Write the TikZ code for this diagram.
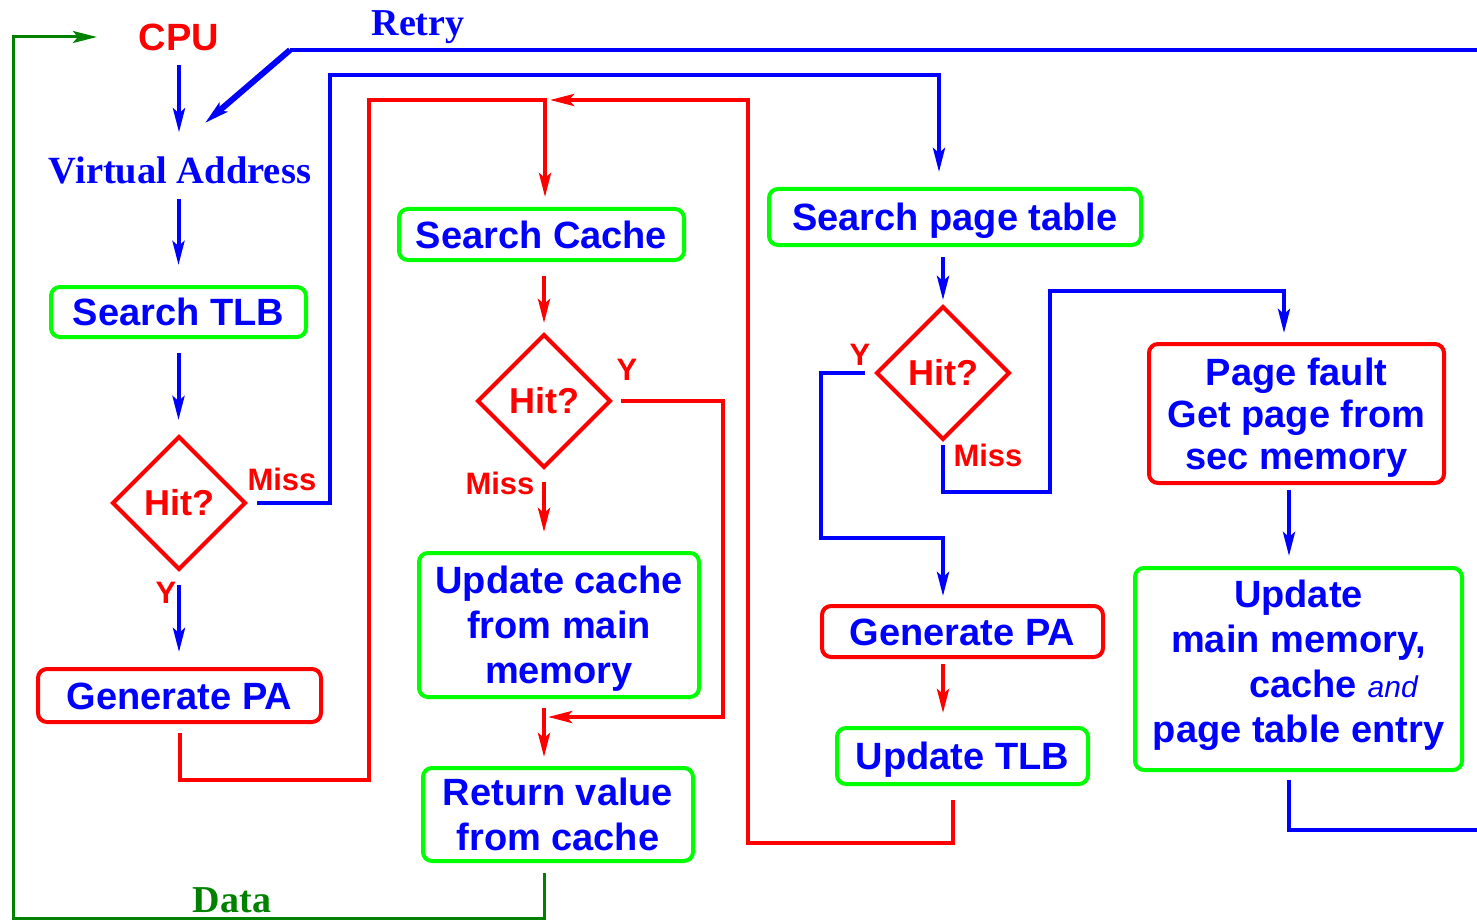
\documentclass[tikz,border=0pt]{standalone}
\usepackage{fontspec}
\setmainfont{Liberation Sans}
\newfontfamily\serifbf{Liberation Serif}
\usetikzlibrary{arrows.meta,shapes.geometric,calc}
\definecolor{pblue}{RGB}{0,0,255}
\definecolor{pred}{RGB}{255,0,0}
\definecolor{pgreen}{RGB}{0,255,0}
\definecolor{dgreen}{RGB}{0,130,0}

\begin{document}
\begin{tikzpicture}[x=1pt,y=-1pt,
  box/.style={rectangle, rounded corners=9pt, line width=4pt, inner sep=0pt, outer sep=0pt,
    align=center, text=pblue, font=\bfseries\fontsize{38}{45}\selectfont},
  oneline/.style={text height=27pt, text depth=0pt},
  gbox/.style={box, draw=pgreen},
  rbox/.style={box, draw=pred},
  dec/.style={diamond, draw=pred, line width=4pt, inner sep=0pt, outer sep=0pt,
    minimum width=132pt, minimum height=132pt, text=pred,
    font=\bfseries\fontsize{36}{40}\selectfont},
  lbl/.style={inner sep=0pt, text=pred, font=\bfseries\fontsize{31}{34}\selectfont},
  ttl/.style={inner sep=0pt, outer sep=0pt, font=\serifbf\bfseries\fontsize{38}{42}\selectfont},
  bflow/.style={draw=pblue, line width=4pt},
  rflow/.style={draw=pred, line width=4pt},
  gflow/.style={draw=dgreen, line width=3pt},
  tip/.style={-{Stealth[length=24pt,width=12pt,inset=5pt]}},
]
\useasboundingbox (0,0) rectangle (1477,920);

% titles
\node[inner sep=0pt, outer sep=0pt, text=pred, font=\bfseries\fontsize{38}{42}\selectfont] (cpu) at (179,37) {CPU};
\node[ttl, text=pblue] (retry) at (418,27) {Retry};
\node[ttl, text=pblue, font=\serifbf\bfseries\fontsize{38.5}{42}\selectfont] (va) at (180,170) {Virtual Address};
\node[ttl, text=dgreen] (data) at (232,900) {Data};

% TLB column
\node[gbox, oneline, minimum width=255pt, minimum height=50pt] (tlb) at (178.5,312) {Search TLB};
\node[dec] (hit1) at (179,503) {Hit?};
\node[rbox, oneline, minimum width=283pt, minimum height=53pt] (gpa1) at (179.5,695.5) {Generate PA};

% cache column
\node[gbox, oneline, minimum width=285pt, minimum height=51pt] (scache) at (541.5,234.5) {Search Cache};
\node[dec] (hit2) at (544,401) {Hit?};
\node[gbox, text depth=0pt, minimum width=280pt, minimum height=144pt] (ucache) at (559,625) {Update cache\\from main\\memory};
\node[gbox, text depth=-5pt, minimum width=270pt, minimum height=93pt] (retval) at (558,814.5) {Return value\\from cache};

% page table column
\node[gbox, oneline, minimum width=372pt, minimum height=56pt] (spt) at (955,217) {Search page table};
\node[dec] (hit3) at (943,373) {Hit?};
\node[rbox, oneline, minimum width=281pt, minimum height=51pt] (gpa2) at (962.5,631.5) {Generate PA};
\node[gbox, oneline, minimum width=251pt, minimum height=56pt] (utlb) at (962.5,756) {Update TLB};

% page fault column
\node[rbox, text depth=0pt, minimum width=295pt, minimum height=139pt, font=\bfseries\fontsize{38}{42}\selectfont] (pfault) at (1296.5,413.5) {Page fault\\Get page from\\sec memory};
\node[gbox, text depth=15pt, minimum width=327pt, minimum height=202pt] (umain) at (1298.5,669)
  {Update\\main memory,\\\hspace*{70pt}cache {\mdseries\itshape\fontsize{30}{30}\selectfont and}\\page table entry};

% branch labels
\node[lbl] (miss1) at (282,479) {Miss};
\node[lbl] (y1) at (166,593) {Y};
\node[lbl] (y2) at (627,370) {Y};
\node[lbl] (miss2) at (500,483) {Miss};
\node[lbl] (y3) at (860,355) {Y};
\node[lbl] (miss3) at (988,455) {Miss};

% bend points
\coordinate (rin) at (1477,50);
\coordinate (rbend) at (290,50);
\coordinate (rtip) at (205,123);
\coordinate (m1) at (330,75);
\coordinate (g1) at (369,780);
\coordinate (g2) at (369,100);
\coordinate (j1) at (545,100);
\coordinate (y2a) at (723,401);
\coordinate (y2b) at (723,717);
\coordinate (j2) at (544,717);
\coordinate (d1) at (13,918);
\coordinate (d2) at (13,37);
\coordinate (ybend3) at (821,538);
\coordinate (m3a) at (1050,492);
\coordinate (m3b) at (1050,291);
\coordinate (u1) at (748,843);
\coordinate (u2) at (748,100);
\coordinate (rout) at (1477,830);

% blue: address translation
\draw[bflow, tip, shorten <=15pt, shorten >=24pt] (cpu.south) -- (cpu.south |- va.north);
\draw[bflow] (rin) -- (rbend);
\draw[bflow, line width=6pt, tip] (rbend) -- (rtip);
\draw[bflow, tip, shorten <=15pt, shorten >=22pt] (va.south -| tlb.north) -- (tlb.north);
\draw[bflow, tip, shorten <=16pt, shorten >=17pt] (tlb.south) -- (tlb.south |- hit1.north);
\draw[bflow, tip, shorten <=12pt, shorten >=17pt] (hit1.east) -| (m1) -| ($(spt.north)+(-16,0)$);
\draw[bflow, tip, shorten <=16pt, shorten >=17pt] (hit1.south) -- (hit1.south |- gpa1.north);
\draw[bflow, tip, shorten <=12pt, shorten >=7pt] (spt.south -| hit3.north) -- (hit3.north);
\draw[bflow, tip, shorten <=12pt, shorten >=10pt] (hit3.west) -| (ybend3) -| (gpa2.north -| hit3.south);
\draw[bflow, tip, shorten <=6pt, shorten >=11pt] (hit3.south) |- (m3a) -- (m3b) -| ($(pfault.north)+(-12.5,0)$);
\draw[bflow, tip, shorten <=7pt, shorten >=12pt] ($(pfault.south)+(-7.5,0)$) -- ($(umain.north)+(-9.5,0)$);
\draw[bflow, shorten <=10pt] ($(umain.south)+(-9.5,0)$) |- (rout);

% red: cache access
\draw[rflow, tip, shorten <=11pt, shorten >=12pt] (gpa1.south) |- (g1) -- (g2) -- (j1) -- (j1 |- scache.north);
\draw[rflow, tip, shorten <=16pt, shorten >=12pt] (scache.south -| hit2.north) -- (hit2.north);
\draw[rflow, tip, shorten <=15pt, shorten >=21pt] (hit2.south) -- (hit2.south |- ucache.north);
\draw[rflow, tip, shorten <=11pt, shorten >=4pt] (hit2.east) -- (y2a) -- (y2b) -- (j2);
\draw[rflow, tip, shorten <=11pt, shorten >=11pt] (ucache.south -| j2) -- (retval.north -| j2);
\draw[rflow, tip, shorten <=7pt, shorten >=15pt] (gpa2.south -| hit3.south) -- (utlb.north -| hit3.south);
\draw[rflow, tip, shorten <=16pt, shorten >=5pt] ($(utlb.south)+(-9.5,0)$) |- (u1) -- (u2) -- (j1);

% green: data back to the CPU
\draw[gflow, tip, shorten <=12pt, shorten >=42pt] (retval.south -| j2) |- (d1) -- (d2) -- (cpu.west);
\end{tikzpicture}
\end{document}
